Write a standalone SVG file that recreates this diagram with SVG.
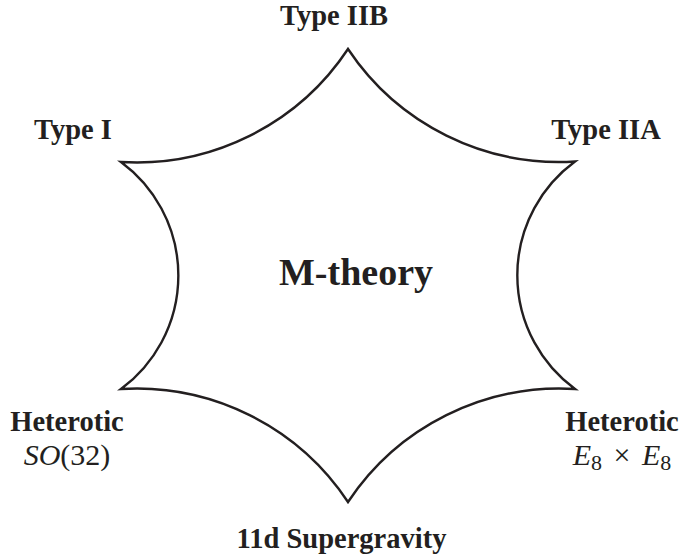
<svg xmlns="http://www.w3.org/2000/svg" width="681" height="557" viewBox="0 0 681 557">
<style>
.lbl{font-family:"Liberation Serif","Times New Roman",serif;font-weight:bold;font-size:28.5px;fill:#231f20;text-anchor:middle}
.big{font-size:38px}
.math{font-family:"Liberation Serif","Times New Roman",serif;font-size:30px;fill:#231f20;text-anchor:middle}
.it{font-style:italic}
.star{fill:none;stroke:#231f20;stroke-width:2.4;stroke-linejoin:miter;stroke-miterlimit:20}
</style>
<rect width="681" height="557" fill="#ffffff"/>
<g id="connectors">
<path class="star" d="M348,49 A254,254 0 0 0 575,161.5 A141,141 0 0 0 575,389 A254,254 0 0 0 348,502 A254,254 0 0 0 121,389 A141,141 0 0 0 121,162 A254,254 0 0 0 348,49 Z"/>
</g>
<g id="mtheory"><text class="lbl big" x="356" y="285">M-theory</text></g>
<g id="typeIIB"><text class="lbl" x="334" y="25">Type IIB</text></g>
<g id="typeI"><text class="lbl" x="73" y="139">Type I</text></g>
<g id="typeIIA"><text class="lbl" x="606" y="139">Type IIA</text></g>
<g id="hetSO32"><text class="lbl" x="67" y="431">Heterotic</text><text class="math" x="67" y="465"><tspan class="it">SO</tspan>(32)</text></g>
<g id="hetE8"><text class="lbl" x="622" y="431">Heterotic</text><text class="math" x="622" y="465" font-size="31"><tspan class="it">E</tspan><tspan font-size="22" dy="5">8</tspan><tspan dy="-5" dx="4"> × </tspan><tspan class="it" dx="4">E</tspan><tspan font-size="22" dy="5">8</tspan></text></g>
<g id="sugra"><text class="lbl" x="341.5" y="548">11d Supergravity</text></g>
</svg>
